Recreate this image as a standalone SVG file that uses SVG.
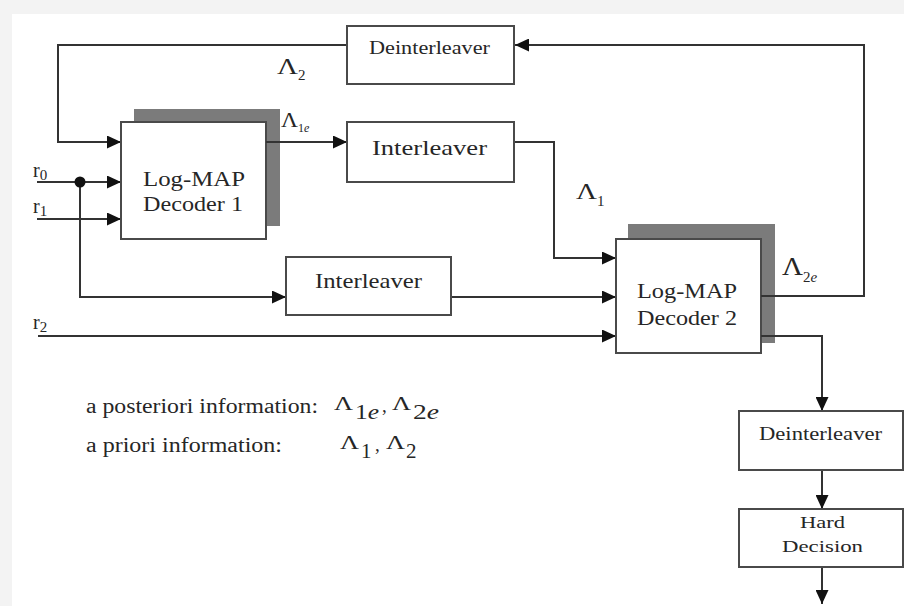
<svg xmlns="http://www.w3.org/2000/svg" width="904" height="606" viewBox="0 0 904 606">
<defs>
<style>
.bg{fill:#f3f3f3}
.paper{fill:#ffffff}
.box{fill:#ffffff;stroke:#4a4a4a;stroke-width:2}
.shadow{fill:#7b7b7b}
.wire{fill:none;stroke:#333333;stroke-width:2}
text{font-family:"Liberation Serif","Times New Roman",serif;fill:#262626}
.lbl{font-size:22px}
.it{font-style:italic}
</style>
<marker id="arr" markerUnits="userSpaceOnUse" markerWidth="15" markerHeight="13" refX="14" refY="6.5" orient="auto">
<path d="M0,0 L14,6.5 L0,13 z" fill="#111111"/>
</marker>
</defs>
<rect class="bg" x="0" y="0" width="904" height="606"/>
<rect class="paper" x="12" y="14" width="892" height="592"/>

<g id="connectors">
<path class="wire" d="M761,296 H864 V45 H515" marker-end="url(#arr)"/>
<path class="wire" d="M347,45 H58 V142 H121" marker-end="url(#arr)"/>
<path class="wire" d="M514,142 H554 V258 H616" marker-end="url(#arr)"/>
<path class="wire" d="M37,182 H121" marker-end="url(#arr)"/>
<path class="wire" d="M37,219 H121" marker-end="url(#arr)"/>
<path class="wire" d="M80,182 V297 H286" marker-end="url(#arr)"/>
<path class="wire" d="M451,297 H616" marker-end="url(#arr)"/>
<path class="wire" d="M38,336 H616" marker-end="url(#arr)"/>
<path class="wire" d="M761,336 H822 V411" marker-end="url(#arr)"/>
<path class="wire" d="M822,470 V509" marker-end="url(#arr)"/>
<path class="wire" d="M822,567 V604" marker-end="url(#arr)"/>
<circle cx="80" cy="182" r="5.5" fill="#111111"/>
</g>

<g id="decoder1">
<rect class="shadow" x="134" y="109" width="146" height="117"/>
<rect class="box" x="121" y="122" width="145" height="117"/>
<text class="lbl" x="143" y="186" textLength="102" lengthAdjust="spacingAndGlyphs">Log-MAP</text>
<text class="lbl" x="143" y="211" textLength="100" lengthAdjust="spacingAndGlyphs">Decoder 1</text>
</g>
<path class="wire" d="M266,142 H347" marker-end="url(#arr)"/>

<g id="deinterleaver1">
<rect class="box" x="347" y="26" width="167" height="58"/>
<text x="369" y="54" font-size="19" textLength="121" lengthAdjust="spacingAndGlyphs">Deinterleaver</text>
</g>

<g id="interleaver1">
<rect class="box" x="347" y="122" width="167" height="60"/>
<text x="372" y="155" font-size="22" textLength="115" lengthAdjust="spacingAndGlyphs">Interleaver</text>
</g>

<g id="interleaver2">
<rect class="box" x="286" y="257" width="165" height="58"/>
<text x="315" y="288" font-size="21" textLength="107" lengthAdjust="spacingAndGlyphs">Interleaver</text>
</g>

<g id="decoder2">
<rect class="shadow" x="628" y="224" width="147" height="119"/>
<rect class="box" x="616" y="239" width="145" height="114"/>
<text class="lbl" x="637" y="298" textLength="100" lengthAdjust="spacingAndGlyphs">Log-MAP</text>
<text class="lbl" x="637" y="325" textLength="100" lengthAdjust="spacingAndGlyphs">Decoder 2</text>
</g>
<path class="wire" d="M761,296 H776"/>
<path class="wire" d="M761,336 H776"/>

<g id="deinterleaver2">
<rect class="box" x="739" y="411" width="164" height="59"/>
<text x="759" y="440" font-size="18" textLength="123" lengthAdjust="spacingAndGlyphs">Deinterleaver</text>
</g>

<g id="harddecision">
<rect class="box" x="739" y="509" width="164" height="58"/>
<text x="800" y="528" font-size="17" textLength="45" lengthAdjust="spacingAndGlyphs">Hard</text>
<text x="782" y="552" font-size="17" textLength="81" lengthAdjust="spacingAndGlyphs">Decision</text>
</g>

<g id="labels">
<text x="277" y="74" font-size="23"><tspan textLength="21" lengthAdjust="spacingAndGlyphs">Λ</tspan><tspan font-size="15" dy="6">2</tspan></text>
<text x="281" y="127" font-size="20"><tspan textLength="17" lengthAdjust="spacingAndGlyphs">Λ</tspan><tspan font-size="12" dy="5">1</tspan><tspan font-size="12" class="it">e</tspan></text>
<text x="576" y="199" font-size="24"><tspan textLength="21" lengthAdjust="spacingAndGlyphs">Λ</tspan><tspan font-size="15" dy="7">1</tspan></text>
<text x="782" y="275" font-size="26"><tspan textLength="21" lengthAdjust="spacingAndGlyphs">Λ</tspan><tspan font-size="15" dy="7">2</tspan><tspan font-size="15" class="it">e</tspan></text>
<text x="33" y="177" font-size="20">r<tspan font-size="15" dy="3">0</tspan></text>
<text x="33" y="213" font-size="20">r<tspan font-size="15" dy="3">1</tspan></text>
<text x="33" y="329" font-size="20">r<tspan font-size="15" dy="3">2</tspan></text>
</g>

<g id="legend">
<text x="86" y="413" font-size="20" textLength="232" lengthAdjust="spacingAndGlyphs">a posteriori information:</text>
<text x="334" y="410" font-size="19" textLength="19" lengthAdjust="spacingAndGlyphs">Λ</text>
<text x="355" y="419" font-size="21" textLength="24" lengthAdjust="spacingAndGlyphs">1<tspan class="it">e</tspan></text>
<text x="382" y="412" font-size="19">,</text>
<text x="392" y="410" font-size="19" textLength="19" lengthAdjust="spacingAndGlyphs">Λ</text>
<text x="413" y="419" font-size="21" textLength="26" lengthAdjust="spacingAndGlyphs">2<tspan class="it">e</tspan></text>
<text x="86" y="452" font-size="20" textLength="196" lengthAdjust="spacingAndGlyphs">a priori information:</text>
<text x="340" y="449" font-size="19" textLength="19" lengthAdjust="spacingAndGlyphs">Λ</text>
<text x="361" y="458" font-size="21">1</text>
<text x="375" y="451" font-size="19">,</text>
<text x="386" y="449" font-size="19" textLength="19" lengthAdjust="spacingAndGlyphs">Λ</text>
<text x="406" y="458" font-size="21">2</text>
</g>
</svg>
